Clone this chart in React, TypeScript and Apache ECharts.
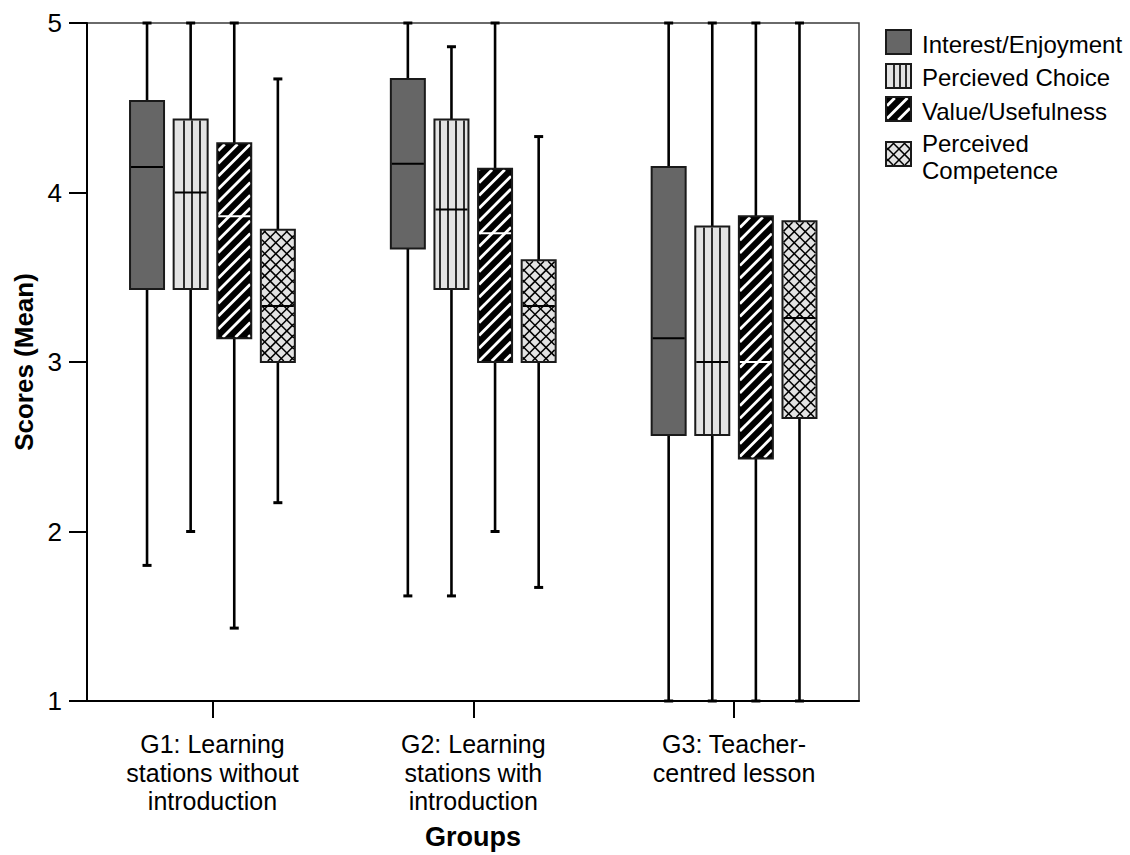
import React, { useEffect, useRef } from "react";
import * as echarts from "echarts";

// ---- data ----
const groupLabels = [
  "G1: Learning\nstations without\nintroduction",
  "G2: Learning\nstations with\nintroduction",
  "G3: Teacher-\ncentred lesson",
];
const seriesNames = ["Interest/Enjoyment", "Percieved Choice", "Value/Usefulness", "Perceived\nCompetence"];
const yTicks = [1, 2, 3, 4, 5];
// each row: [min, q1, median, q3, max] for G1, G2, G3
const interest = [
  [1.8, 3.43, 4.15, 4.54, 5],
  [1.62, 3.67, 4.17, 4.67, 5],
  [1, 2.57, 3.14, 4.15, 5],
];
const choice = [
  [2.0, 3.43, 4.0, 4.43, 5],
  [1.62, 3.43, 3.9, 4.43, 4.86],
  [1, 2.57, 3.0, 3.8, 5],
];
const usefulness = [
  [1.43, 3.14, 3.86, 4.29, 5],
  [2.0, 3.0, 3.76, 4.14, 5],
  [1, 2.43, 3.0, 3.86, 5],
];
const competence = [
  [2.17, 3.0, 3.33, 3.78, 4.67],
  [1.67, 3.0, 3.33, 3.6, 4.33],
  [1, 2.67, 3.26, 3.83, 5],
];
const allSeries = [interest, choice, usefulness, competence];
const patterns = ["solid", "vert", "diag", "cross"];

const FONT = "'Liberation Sans', Arial, Helvetica, sans-serif";

function clip(x0: number, y0: number, x1: number, y1: number, px: number, py: number, dx: number, dy: number) {
  let t0 = -1e5, t1 = 1e5;
  const p = [-dx, dx, -dy, dy];
  const q = [px - x0, x1 - px, py - y0, y1 - py];
  for (let i = 0; i < 4; i++) {
    if (Math.abs(p[i]) < 1e-9) {
      if (q[i] < 0) return null;
    } else {
      const r = q[i] / p[i];
      if (p[i] < 0) t0 = Math.max(t0, r);
      else t1 = Math.min(t1, r);
    }
  }
  if (t0 >= t1) return null;
  return { x1: px + t0 * dx, y1: py + t0 * dy, x2: px + t1 * dx, y2: py + t1 * dy };
}

function hatch(x0: number, y0: number, x1: number, y1: number, angleDeg: number, spacing: number, color: string, width: number) {
  const a = (angleDeg * Math.PI) / 180;
  const dx = Math.cos(a), dy = -Math.sin(a);
  const nx = -dy, ny = dx;
  const cs = [x0 * nx + y0 * ny, x1 * nx + y0 * ny, x0 * nx + y1 * ny, x1 * nx + y1 * ny];
  const cmin = Math.min(...cs), cmax = Math.max(...cs);
  const out: any[] = [];
  for (let c = Math.floor(cmin / spacing) * spacing; c <= cmax; c += spacing) {
    const seg = clip(x0, y0, x1, y1, nx * c, ny * c, dx, dy);
    if (seg) out.push({ type: "line", shape: seg, style: { stroke: color, lineWidth: width }, silent: true });
  }
  return out;
}

function fillBox(kind: string, x0: number, y0: number, x1: number, y1: number, vs = 8) {
  const els: any[] = [];
  const bg = kind === "solid" ? "#666666" : kind === "diag" ? "#000000" : "#e3e3e3";
  els.push({ type: "rect", shape: { x: x0, y: y0, width: x1 - x0, height: y1 - y0 }, style: { fill: bg, stroke: null } });
  const ix0 = x0 + 1, iy0 = y0 + 1, ix1 = x1 - 1, iy1 = y1 - 1;
  if (kind === "vert") {
    for (let x = Math.ceil((ix0 + 4) / vs) * vs; x < ix1 - 2; x += vs) {
      els.push({ type: "line", shape: { x1: x, y1: iy0, x2: x, y2: iy1 }, style: { stroke: "#000", lineWidth: 1.6 } });
    }
  } else if (kind === "diag") {
    els.push(...hatch(ix0, iy0, ix1, iy1, 45, 9, "#ffffff", 2.8));
  } else if (kind === "cross") {
    els.push(...hatch(ix0, iy0, ix1, iy1, 45, 7.8, "#000", 1.5));
    els.push(...hatch(ix0, iy0, ix1, iy1, -45, 7.8, "#000", 1.5));
  }
  els.push({ type: "rect", shape: { x: x0, y: y0, width: x1 - x0, height: y1 - y0 }, style: { fill: "none", stroke: "#1a1a1a", lineWidth: 2 } });
  return els;
}

const SPACING = 0.1672;
const HALF = 17;
const CAP = 4.5;

function renderItem(params: any, api: any) {
  const si = params.seriesIndex;
  const gi = api.value(0);
  const lo = api.value(1), q1 = api.value(2), med = api.value(3), q3 = api.value(4), hi = api.value(5);
  const xv = gi + (si - 1.5) * SPACING;
  const [cx, yq1] = api.coord([xv, q1]);
  const yq3 = api.coord([xv, q3])[1];
  const ylo = api.coord([xv, lo])[1];
  const yhi = api.coord([xv, hi])[1];
  const ymed = api.coord([xv, med])[1];
  const kind = patterns[si];
  const ws = { stroke: "#000", lineWidth: 2.6 };
  const children: any[] = [
    { type: "line", shape: { x1: cx, y1: yq3, x2: cx, y2: yhi }, style: ws },
    { type: "line", shape: { x1: cx, y1: yq1, x2: cx, y2: ylo }, style: ws },
    { type: "line", shape: { x1: cx - CAP, y1: yhi, x2: cx + CAP, y2: yhi }, style: { stroke: "#000", lineWidth: 3 } },
    { type: "line", shape: { x1: cx - CAP, y1: ylo, x2: cx + CAP, y2: ylo }, style: { stroke: "#000", lineWidth: 3 } },
    ...fillBox(kind, cx - HALF, yq3, cx + HALF, yq1),
    {
      type: "line",
      shape: { x1: cx - HALF + 1, y1: ymed, x2: cx + HALF - 1, y2: ymed },
      style: { stroke: kind === "diag" ? "#ffffff" : "#000", lineWidth: 2 },
    },
  ];
  return { type: "group", children };
}

function legendGraphic() {
  const els: any[] = [];
  const ys = [30, 64, 97, 142];
  const ty = [44, 77, 111, 157];
  for (let i = 0; i < 4; i++) {
    els.push(...fillBox(patterns[i], 886, ys[i], 911, ys[i] + 24, 6));
    els.push({
      type: "text",
      x: 922,
      y: ty[i],
      style: {
        text: seriesNames[i],
        font: `24px ${FONT}`,
        fill: "#000",
        verticalAlign: "middle",
        align: "left",
        lineHeight: 27.5,
      },
    });
  }
  return els;
}

export default function App() {
  const ref = useRef<HTMLDivElement>(null);
  useEffect(() => {
    if (!ref.current) return;
    const chart = echarts.init(ref.current, null, { renderer: "svg" });
    const series = allSeries.map((rows, si) => ({
      type: "custom",
      name: seriesNames[si],
      renderItem,
      clip: false,
      encode: { x: 0, y: [1, 2, 3, 4, 5] },
      data: rows.map((r, gi) => [gi, ...r]),
      z: 3,
    }));
    chart.setOption({
      animation: false,
      backgroundColor: "#ffffff",
      grid: {
        left: 87,
        right: 271,
        top: 23,
        bottom: 154,
        show: true,
        borderColor: "#3a3a3a",
        borderWidth: 1.5,
        backgroundColor: "transparent",
      },
      xAxis: {
        type: "value",
        min: -0.481,
        max: 2.479,
        splitLine: { show: false },
        axisLine: { show: true, onZero: false, lineStyle: { color: "#000", width: 2 } },
        axisTick: {
          show: true,
          length: 17,
          lineStyle: { color: "#000", width: 2 },
          customValues: [0, 1, 2],
        },
        axisLabel: {
          customValues: [0, 1, 2],
          formatter: (v: number) => groupLabels[Math.round(v)] ?? "",
          fontFamily: FONT,
          fontSize: 25,
          lineHeight: 28.5,
          color: "#000",
          margin: 29,
          align: "center",
        },
        name: "Groups",
        nameLocation: "middle",
        nameGap: 122,
        nameTextStyle: { fontFamily: FONT, fontSize: 27, fontWeight: "bold", color: "#000", verticalAlign: "top" },
      },
      yAxis: {
        type: "value",
        min: 1,
        max: 5,
        interval: 1,
        splitLine: { show: false },
        axisLine: { show: true, onZero: false, lineStyle: { color: "#000", width: 2 } },
        axisTick: { show: true, length: 18, lineStyle: { color: "#000", width: 2 } },
        axisLabel: {
          fontFamily: FONT,
          fontSize: 26,
          color: "#000",
          margin: 25,
          formatter: (v: number) => (yTicks.includes(v) ? String(v) : ""),
        },
        name: "Scores (Mean)",
        nameLocation: "middle",
        nameGap: 50,
        nameTextStyle: { fontFamily: FONT, fontSize: 26, fontWeight: "bold", color: "#000" },
      },
      graphic: legendGraphic(),
      series,
    });
    return () => chart.dispose();
  }, []);
  return (
    <div
      ref={ref}
      style={{ position: "fixed", left: 0, top: 0, width: 1130, height: 855, background: "#fff" }}
    />
  );
}
